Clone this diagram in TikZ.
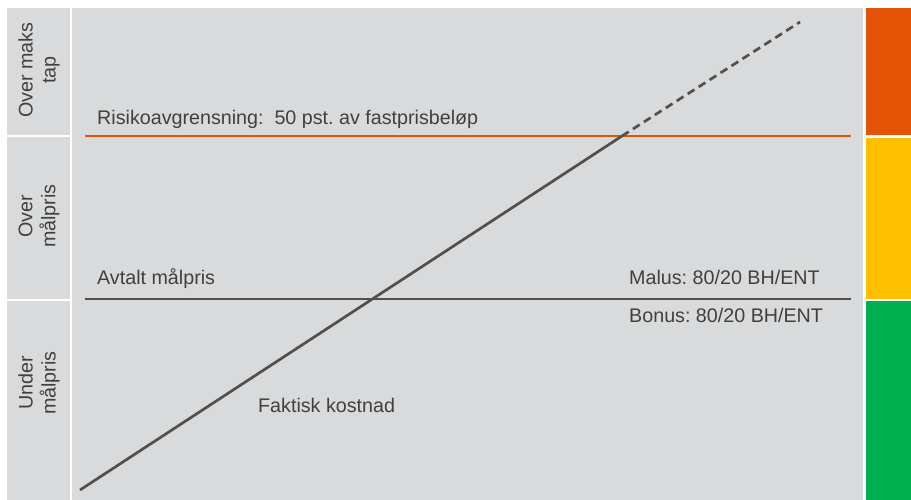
\documentclass[tikz,border=0pt]{standalone}
\usepackage{fontspec}
\setmainfont{Liberation Sans}
\frenchspacing
\definecolor{bggray}{RGB}{217,218,219}
\definecolor{orng}{RGB}{227,82,5}
\definecolor{yel}{RGB}{255,192,0}
\definecolor{grn}{RGB}{0,176,80}
\definecolor{linegray}{RGB}{80,80,80}
\definecolor{txtgray}{RGB}{64,64,64}
\begin{document}
\begin{tikzpicture}[x=1pt,y=-1pt,
  lbl/.style={font=\fontsize{19.7}{23}\selectfont, text=txtgray, inner sep=0pt},
  side/.style={lbl, rotate=90, align=center},
  hline/.style={line width=2.7pt},
  kost/.style={linegray, line width=2.7pt}]
\useasboundingbox (0,0) rectangle (911,500);
\fill[white] (0,0) rectangle (911,500);
% left label cells
\fill[bggray] (7,8) rectangle (70,135.5);
\fill[bggray] (7,137.5) rectangle (70,298.5);
\fill[bggray] (7,301) rectangle (70,500);
% main area
\fill[bggray] (72,8) rectangle (863,500);
% right colour bars
\fill[orng] (866,8) rectangle (911,135.5);
\fill[yel] (866,138) rectangle (911,298.5);
\fill[grn] (866,301) rectangle (911,500);
% side labels
\node[side] (s1) at (39,70) {Over maks\\tap};
\node[side] (s2) at (39,216) {Over\\målpris};
\node[side] (s3) at (39,383) {Under\\målpris};
% coordinates
\coordinate (rL) at (85,136);
\coordinate (rR) at (851,136);
\coordinate (mL) at (85,299);
\coordinate (mR) at (851,299);
\coordinate (kS) at (80,490);
\coordinate (kX) at (622,136);
\coordinate (kE) at (800,22);
% lines
\draw[hline, orng] (rL) -- (rR);
\draw[hline, linegray] (mL) -- (mR);
\draw[kost] (kS) -- (kX);
\draw[kost, dash pattern=on 8pt off 5pt] (kX) -- (kE);
% texts
\node[lbl, anchor=base west] (risk) at (97,125) {Risikoavgrensning:~ 50 pst. av fastprisbeløp};
\node[lbl, anchor=base west] (avt) at (97,284) {Avtalt målpris};
\node[lbl, anchor=base west] (malus) at (629,284) {Malus: 80/20 BH/ENT};
\node[lbl, anchor=base west] (bonus) at (629,322) {Bonus: 80/20 BH/ENT};
\node[lbl, anchor=base west] (fakt) at (258,412) {Faktisk kostnad};
\end{tikzpicture}
\end{document}
